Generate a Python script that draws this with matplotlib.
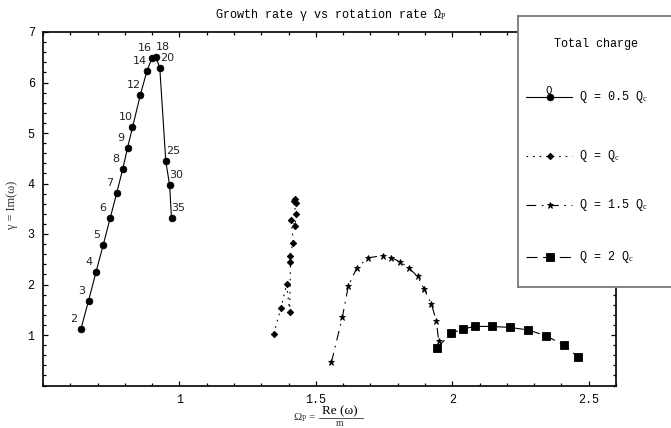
import matplotlib
matplotlib.use("Agg")
import matplotlib.pyplot as plt
from matplotlib.lines import Line2D
from matplotlib.ticker import MultipleLocator, FixedLocator

plt.rcParams['lines.scale_dashes'] = False
plt.rcParams['mathtext.fontset'] = 'custom'
plt.rcParams['mathtext.rm'] = 'Liberation Serif'
plt.rcParams['mathtext.it'] = 'Liberation Serif:italic'

# ---- data: (Re(omega)/m, Im(omega)) for each total charge ----
q05_omega = [0.639, 0.667, 0.694, 0.721, 0.746, 0.770, 0.792, 0.810, 0.828,
             0.857, 0.881, 0.900, 0.913, 0.928, 0.950, 0.964, 0.971]
q05_gamma = [1.12, 1.68, 2.24, 2.79, 3.31, 3.81, 4.28, 4.71, 5.11,
             5.76, 6.23, 6.49, 6.51, 6.29, 4.44, 3.97, 3.31]
q05_modes = ["2", "3", "4", "5", "6", "7", "8", "9", "10",
             "12", "14", "16", "18", "20", "25", "30", "35"]

q1_omega = [1.345, 1.372, 1.393, 1.404, 1.407, 1.404, 1.417, 1.410,
            1.425, 1.426, 1.420, 1.425, 1.426]
q1_gamma = [1.02, 1.53, 2.01, 1.46, 2.45, 2.56, 2.83, 3.28,
            3.16, 3.40, 3.65, 3.69, 3.61]

q15_omega = [1.557, 1.597, 1.619, 1.650, 1.692, 1.745, 1.776, 1.809,
             1.840, 1.873, 1.897, 1.923, 1.942, 1.950]
q15_gamma = [0.46, 1.35, 1.97, 2.33, 2.53, 2.57, 2.53, 2.45,
             2.33, 2.16, 1.91, 1.62, 1.27, 0.88]

q2_omega = [1.943, 1.995, 2.038, 2.084, 2.144, 2.210, 2.279, 2.345, 2.409, 2.459]
q2_gamma = [0.74, 1.03, 1.12, 1.17, 1.17, 1.15, 1.10, 0.98, 0.80, 0.57]

x_ticks = [1, 1.5, 2, 2.5]
x_tick_labels = ["1", "1.5", "2", "2.5"]
y_ticks = [1, 2, 3, 4, 5, 6, 7]
y_tick_labels = ["1", "2", "3", "4", "5", "6", "7"]

legend_title = "Total charge"
legend_labels = ["Q = 0.5 Q$_\\mathrm{c}$", "Q = Q$_\\mathrm{c}$",
                 "Q = 1.5 Q$_\\mathrm{c}$", "Q = 2 Q$_\\mathrm{c}$"]

MONO = "Liberation Mono"
W, H = 671, 428

# line/marker styles for the four charges
styles = [
    dict(linestyle='-', marker='o', markersize=4.8),
    dict(linestyle=(0, (1.2, 3.5)), marker='D', markersize=3.3),
    dict(linestyle=(0, (7, 4, 1.2, 4)), marker='*', markersize=5.0),
    dict(linestyle=(0, (8, 4)), marker='s', markersize=5.4),
]

fig = plt.figure(figsize=(W / 100, H / 100), dpi=100)
ax = fig.add_axes([43 / W, 1 - 385.5 / H, (616 - 43) / W, (385.5 - 32) / H])

series = [(q05_omega, q05_gamma), (q1_omega, q1_gamma),
          (q15_omega, q15_gamma), (q2_omega, q2_gamma)]
for (xs, ys), st in zip(series, styles):
    ax.plot(xs, ys, color='black', linewidth=0.8, markeredgewidth=0.6, **st)

# mode numbers beside the Q = 0.5 Qc curve
peak = q05_modes.index("16")
for i, (x, y, lab) in enumerate(zip(q05_omega, q05_gamma, q05_modes)):
    dx = -7 if i <= peak else 7
    ax.annotate(lab, (x, y), xytext=(dx, 10), textcoords='offset pixels',
                ha='center', va='center', fontsize=8, color='#222222',
                family='DejaVu Sans')

ax.set_xlim(0.5, 2.6)
ax.set_ylim(0, 7)
ax.xaxis.set_major_locator(FixedLocator(x_ticks))
ax.set_xticklabels(x_tick_labels)
ax.yaxis.set_major_locator(FixedLocator(y_ticks))
ax.set_yticklabels(y_tick_labels)
ax.xaxis.set_minor_locator(MultipleLocator(0.1))
ax.yaxis.set_minor_locator(MultipleLocator(0.2))
ax.tick_params(which='both', direction='in', top=True, right=True,
               width=0.9, labelsize=8.5)
ax.tick_params(which='major', length=3.4, pad=6)
ax.tick_params(which='minor', length=2.0)
for lab in ax.get_xticklabels() + ax.get_yticklabels():
    lab.set_family(MONO)
for sp in ax.spines.values():
    sp.set_linewidth(1.2)

# title
fig.text(331 / W, 1 - 15 / H, "Growth rate γ vs rotation rate Ω$_\\mathrm{P}$",
         ha='center', va='center', family=MONO, fontsize=8.5)

# y label
fig.text(12 / W, 1 - 205 / H, "γ = Im(ω)", rotation=90, ha='center', va='center',
         family='Liberation Serif', fontsize=8.8, color='#333333')

# x label as a fraction
fig.text(305 / W, 1 - 418 / H, "Ω$_\\mathrm{P}$ =", ha='center', va='center',
         family='Liberation Serif', fontsize=8, color='#333333')
fig.text(340 / W, 1 - 411 / H, "Re (ω)", ha='center', va='center',
         family='Liberation Serif', fontsize=9.5)
fig.add_artist(Line2D([319 / W, 363 / W], [1 - 417.5 / H, 1 - 417.5 / H],
                      color='#333333', linewidth=0.6))
fig.text(340 / W, 1 - 424 / H, "m", ha='center', va='center',
         family='Liberation Serif', fontsize=7, color='#333333')

# legend box (runs off the right edge)
lax = fig.add_axes([517.5 / W, 1 - 287 / H, 180 / W, (287 - 16) / H], zorder=5)
lax.set_xlim(517.5, 697.5)
lax.set_ylim(287, 16)
lax.set_xticks([])
lax.set_yticks([])
lax.set_facecolor('white')
for sp in lax.spines.values():
    sp.set_color('#7a7a7a')
    sp.set_linewidth(1.3)

lax.text(596, 44, legend_title, ha='center', va='center', family=MONO, fontsize=8.5)
entry_y = [97, 156, 205, 257]
for y, st, lab in zip(entry_y, styles, legend_labels):
    lax.plot([526, 550, 572], [y, y, y], color='black', linewidth=0.8,
             markeredgewidth=0.6, markevery=[1], **st)
    lax.text(579, y, lab, ha='left', va='center', family=MONO, fontsize=8.5)
lax.text(549, 91, "0", ha='center', va='center', fontsize=7.5, family='DejaVu Sans')

fig.savefig("out.png", dpi=100)
